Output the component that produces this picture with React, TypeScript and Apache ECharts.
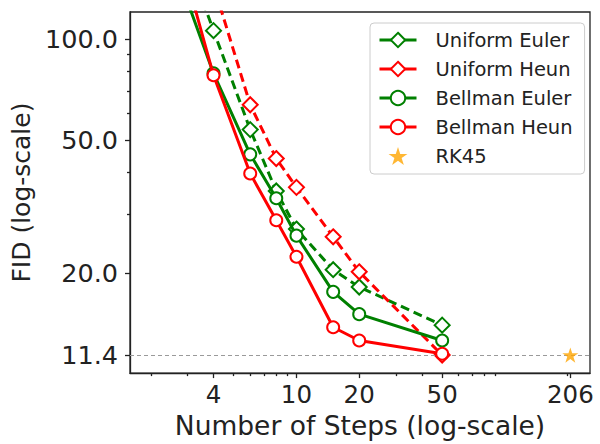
import React, { useEffect, useRef } from "react";
import * as echarts from "echarts";

const steps = [2, 4, 6, 8, 10, 15, 20, 50];
const uniformEuler = [350, 106, 53.7, 35.2, 27.1, 20.5, 18.2, 14.0];
const uniformHeun = [600, 145, 63.7, 44.0, 36.1, 25.7, 20.2, 11.4];
const bellmanEuler = [260, 79, 45.3, 33.5, 25.9, 17.6, 15.1, 12.6];
const bellmanHeun = [370, 78, 39.7, 28.8, 22.4, 13.8, 12.6, 11.5];
const rk45Steps = [206];
const rk45Fid = [11.4];
const referenceFid = 11.4;
const xTicks = [4, 10, 20, 50, 206];
const xMinorTicks = [2, 3, 5, 6, 7, 8, 9, 30, 40, 60, 70, 80, 90, 200];
const yTicks = [11.4, 20, 50, 100];
const yMinorTicks = [30, 40, 60, 70, 80, 90];

const FONT = "DejaVu Sans";
const GREEN = "#008000";
const RED = "#ff0000";
const STAR =
  "path://M0,-10L2.245,-3.09L9.51,-3.09L3.633,1.18L5.88,8.09L0,3.82L-5.88,8.09L-3.633,1.18L-9.51,-3.09L-2.245,-3.09Z";

const zip = (xs: number[], ys: number[]) => xs.map((x, i) => [x, ys[i]]);

export default function App() {
  const ref = useRef<HTMLDivElement>(null);
  useEffect(() => {
    if (!ref.current) return;
    const chart = echarts.init(ref.current, null, { renderer: "svg" });
    const X_MIN = 1.59;
    const X_MAX = 256;
    const Y_MIN = 10.07;
    const Y_MAX = 120.5;
    const tickLine = { color: "#222", width: 1.3 };
    const lineSeries = (
      name: string,
      data: number[],
      color: string,
      symbol: string,
      size: number,
      dashed: boolean,
      z: number
    ) => ({
      name,
      type: "line",
      data: zip(steps, data),
      xAxisIndex: 0,
      yAxisIndex: 0,
      symbol,
      symbolSize: size,
      showAllSymbol: true,
      clip: true,
      z,
      lineStyle: { color, width: 3, type: dashed ? [9, 5] : "solid" },
      itemStyle: { color, borderColor: color, borderWidth: 2.6 },
    });
    const legendItem = (name: string) => ({
      name,
      lineStyle: { type: "solid", width: 3 },
    });
    chart.setOption({
      animation: false,
      textStyle: { fontFamily: FONT },
      grid: {
        left: 130,
        right: 10,
        top: 12,
        bottom: 69,
        show: true,
        borderColor: "#222",
        borderWidth: 1.3,
      },
      legend: {
        orient: "vertical",
        left: 370,
        top: 23,
        itemWidth: 37,
        itemHeight: 18,
        itemGap: 9,
        padding: [7, 12, 8, 8],
        backgroundColor: "#fff",
        borderColor: "#cccccc",
        borderWidth: 1,
        borderRadius: 4,
        textStyle: { fontSize: 19.5, color: "#222", fontFamily: FONT, padding: [0, 0, 0, 14] },
        data: [
          legendItem("Uniform Euler"),
          legendItem("Uniform Heun"),
          legendItem("Bellman Euler"),
          legendItem("Bellman Heun"),
          { name: "RK45" },
        ],
      },
      xAxis: [
        {
          type: "log",
          logBase: 10,
          min: X_MIN,
          max: X_MAX,
          position: "bottom",
          name: "Number of Steps (log-scale)",
          nameLocation: "middle",
          nameGap: 37,
          nameTextStyle: { fontSize: 26.5, color: "#222", fontFamily: FONT },
          axisLine: { show: true, lineStyle: tickLine },
          axisTick: { show: true, customValues: xTicks, length: 5, lineStyle: tickLine },
          axisLabel: {
            customValues: xTicks,
            fontSize: 24.5,
            color: "#222",
            fontFamily: FONT,
            margin: 9,
            formatter: (v: number) => String(Math.round(v)),
          },
          splitLine: { show: false },
        },
        {
          type: "log",
          logBase: 10,
          min: X_MIN,
          max: X_MAX,
          position: "bottom",
          axisLine: { show: false },
          axisTick: { show: true, customValues: xMinorTicks, length: 3, lineStyle: tickLine },
          axisLabel: { show: false },
          splitLine: { show: false },
        },
      ],
      yAxis: [
        {
          type: "log",
          logBase: 10,
          min: Y_MIN,
          max: Y_MAX,
          position: "left",
          name: "FID (log-scale)",
          nameLocation: "middle",
          nameGap: 93,
          nameTextStyle: { fontSize: 25, color: "#222", fontFamily: FONT },
          axisLine: { show: true, lineStyle: tickLine },
          axisTick: { show: true, customValues: yTicks, length: 5, lineStyle: tickLine },
          axisLabel: {
            customValues: yTicks,
            fontSize: 25.5,
            color: "#222",
            fontFamily: FONT,
            margin: 12,
            formatter: (v: number) => Number(v).toFixed(1),
          },
          splitLine: { show: false },
        },
        {
          type: "log",
          logBase: 10,
          min: Y_MIN,
          max: Y_MAX,
          position: "left",
          axisLine: { show: false },
          axisTick: { show: true, customValues: yMinorTicks, length: 3, lineStyle: tickLine },
          axisLabel: { show: false },
          splitLine: { show: false },
        },
      ],
      series: [
        {
          name: "ref",
          type: "line",
          data: [],
          z: 1,
          markLine: {
            silent: true,
            symbol: "none",
            label: { show: false },
            lineStyle: { color: "#9a9a9a", width: 1, type: [4, 3] },
            data: [{ yAxis: referenceFid }],
          },
        },
        lineSeries("Uniform Euler", uniformEuler, GREEN, "emptyDiamond", 15, true, 2),
        lineSeries("Uniform Heun", uniformHeun, RED, "emptyDiamond", 15, true, 3),
        lineSeries("Bellman Euler", bellmanEuler, GREEN, "emptyCircle", 12, false, 4),
        lineSeries("Bellman Heun", bellmanHeun, RED, "emptyCircle", 12, false, 5),
        {
          name: "RK45",
          type: "scatter",
          data: zip(rk45Steps, rk45Fid),
          symbol: STAR,
          symbolKeepAspect: true,
          symbolSize: 16,
          z: 6,
          itemStyle: { color: "#ffa500" },
        },
      ],
    });
    return () => chart.dispose();
  }, []);
  return (
    <div
      ref={ref}
      style={{ position: "fixed", left: 0, top: 0, width: 600, height: 444, background: "#fff" }}
    />
  );
}
